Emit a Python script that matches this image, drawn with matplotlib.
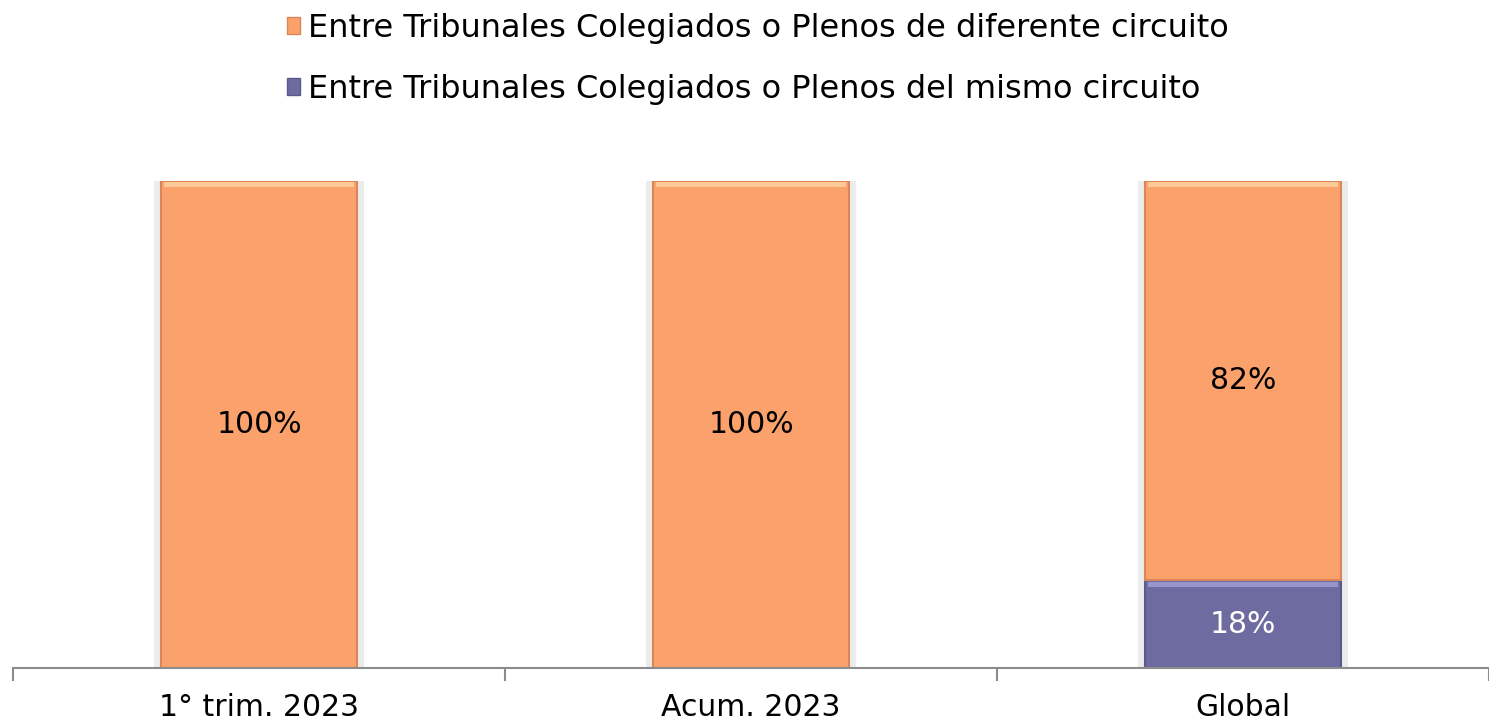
import matplotlib.pyplot as plt
import numpy as np

# Porcentajes por tipo de contradicción
categorias = ["1° trim. 2023", "Acum. 2023", "Global"]
mismo_circuito = [0, 0, 18]
diferente_circuito = [100, 100, 82]

color_naranja = "#FBA26C"
color_morado = "#6D6BA0"

plt.rcParams['font.family'] = ['DejaVu Sans']

fig = plt.figure(figsize=(14.89, 7.21), dpi=100)
ax = fig.add_axes([13 / 1489, 1 - 668 / 721, 1 - 13 / 1489, (668 - 181) / 721])

x = np.arange(len(categorias))
ancho = 0.4
totales = np.add(mismo_circuito, diferente_circuito)

# sombra ligera detrás de las barras
ax.bar(x, totales, ancho + 0.025, color="#ececec", zorder=1)

b1 = ax.bar(x, mismo_circuito, ancho, color=color_morado, edgecolor="#5b598a",
            linewidth=1.5, zorder=2,
            label="Entre Tribunales Colegiados o Plenos del mismo circuito")
b2 = ax.bar(x, diferente_circuito, ancho, bottom=mismo_circuito, color=color_naranja,
            edgecolor="#d9875a", linewidth=1.5, zorder=2,
            label="Entre Tribunales Colegiados o Plenos de diferente circuito")

# brillo en la parte superior de cada segmento (efecto biselado)
brillo = 1.0
for xi, m, d in zip(x, mismo_circuito, diferente_circuito):
    if m > 0:
        ax.bar(xi, brillo, ancho * 0.97, bottom=m - brillo - 0.3, color="#9796cc", linewidth=0, zorder=2.5)
    if d > 0:
        ax.bar(xi, brillo, ancho * 0.97, bottom=m + d - brillo - 0.3, color="#fdc996", linewidth=0, zorder=2.5)

# etiquetas de valor
for xi, m, d in zip(x, mismo_circuito, diferente_circuito):
    if m > 0:
        ax.text(xi, m / 2, f"{m}%", ha="center", va="center", fontsize=21.5, color="white", zorder=3)
    if d > 0:
        ax.text(xi, m + d / 2, f"{d}%", ha="center", va="center", fontsize=21.5, color="black", zorder=3)

ax.set_xlim(-0.5, 2.475)
ax.set_ylim(0, 100)
for lado in ["top", "right", "left"]:
    ax.spines[lado].set_visible(False)
ax.spines["bottom"].set_color("#8c8c8c")
ax.spines["bottom"].set_linewidth(1.5)
ax.set_yticks([])

ax.set_xticks([-0.5, 0.5, 1.5, 2.5])
ax.set_xticklabels([])
ax.tick_params(axis="x", which="major", length=9, width=1.5, color="#8c8c8c")
ax.set_xticks(x, minor=True)
ax.set_xticklabels(categorias, minor=True, fontsize=21.5)
ax.tick_params(axis="x", which="minor", length=0, pad=18)

leg = fig.legend(handles=[b2, b1], loc="upper left", bbox_to_anchor=(274 / 1489, 1.0),
                 frameon=False, fontsize=23, handlelength=0.42, handleheight=0.42,
                 handletextpad=0.25, labelspacing=0.95, borderaxespad=0.0)
for h in leg.legend_handles:
    h.set_linewidth(1.0)

fig.savefig("out.png", dpi=100)
